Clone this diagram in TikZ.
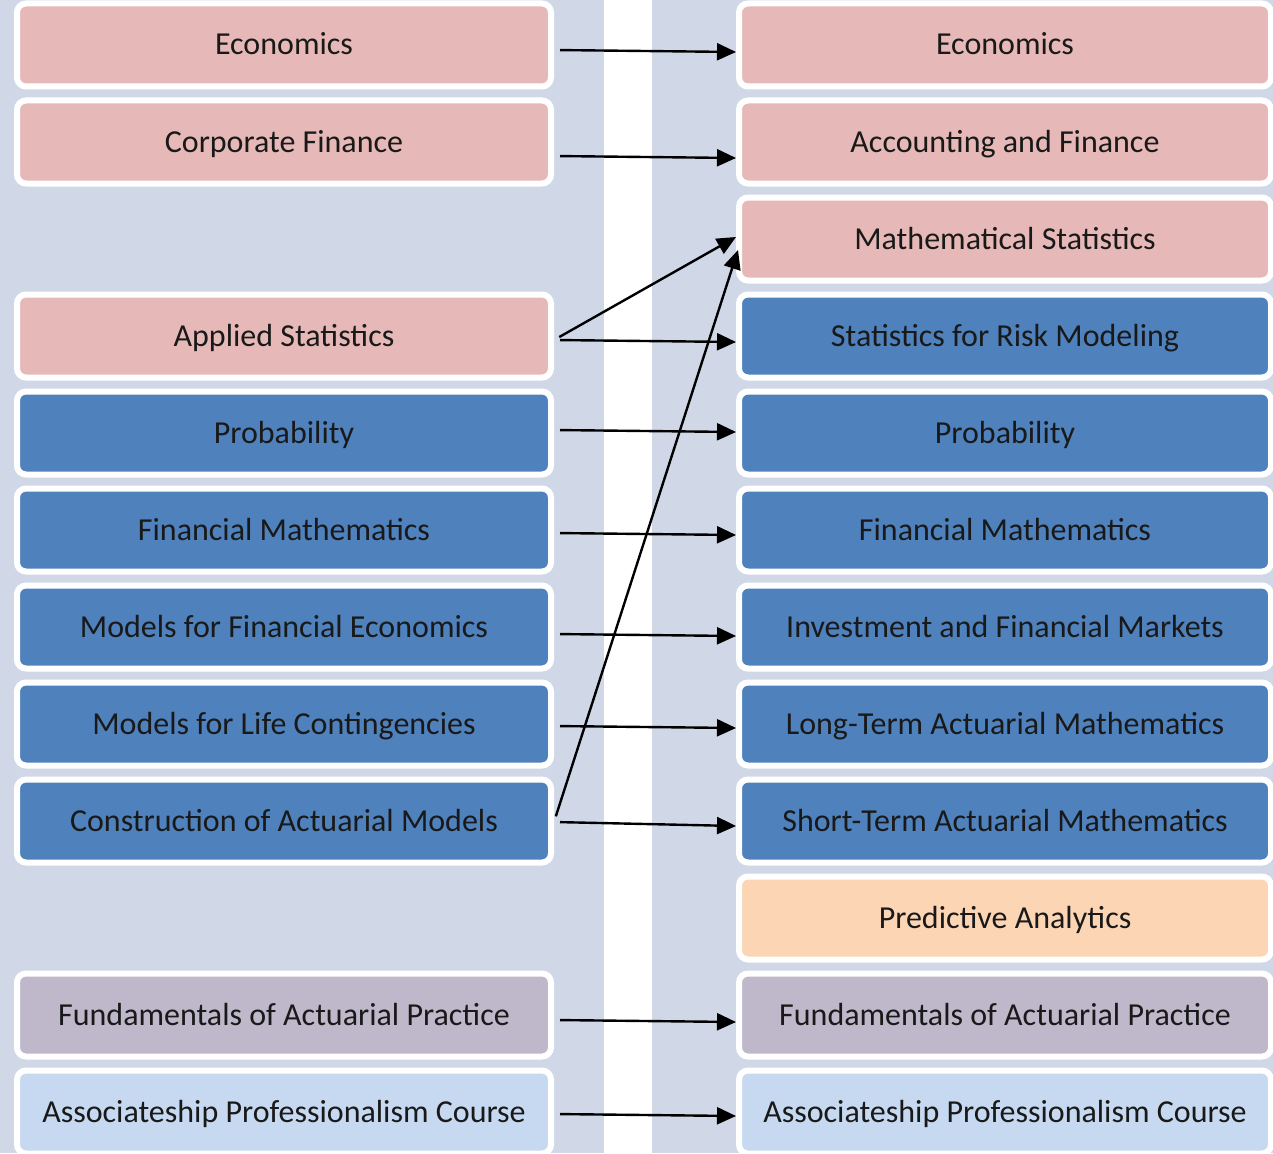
\documentclass[tikz,border=0pt]{standalone}
\usepackage{fontspec}
\setmainfont{Carlito}
\usetikzlibrary{positioning, arrows.meta}
\definecolor{bandbg}{HTML}{D0D8E8}
\definecolor{pinkbox}{HTML}{E6B9B8}
\definecolor{bluebox}{HTML}{4F81BD}
\definecolor{peachbox}{HTML}{FCD5B5}
\definecolor{lilacbox}{HTML}{BFB7CA}
\definecolor{palebox}{HTML}{C6D9F1}
\begin{document}
\begin{tikzpicture}[x=1pt,y=-1pt,node distance=97pt,on grid,
  course/.style={draw=white, line width=6pt, rounded corners=9pt, minimum width=534pt,
    minimum height=83pt, inner sep=0pt, text height=22pt, text depth=2pt,
    font=\fontsize{32}{38}\selectfont, text=black!90},
  newcourse/.style={course, minimum width=532pt},
  link/.style={-{Triangle[length=19pt,width=17pt]}, line width=2.4pt, shorten <=6pt}]
  \useasboundingbox (0,0) rectangle (1273,1153);
  \fill[bandbg] (0,0) rectangle (604,1153);
  \fill[bandbg] (652,0) rectangle (1273,1153);

  \node[newcourse, fill=pinkbox] (econR) at (1005,45) {Economics};
  \node[newcourse, fill=pinkbox] (accR) [below=of econR] {Accounting and Finance};
  \node[newcourse, fill=pinkbox] (mathR) [below=of accR] {Mathematical Statistics};
  \node[newcourse, fill=bluebox] (statR) [below=of mathR] {Statistics for Risk Modeling};
  \node[newcourse, fill=bluebox] (probR) [below=of statR] {Probability};
  \node[newcourse, fill=bluebox] (fmR) [below=of probR] {Financial Mathematics};
  \node[newcourse, fill=bluebox] (ifmR) [below=of fmR] {Investment and Financial Markets};
  \node[newcourse, fill=bluebox] (ltamR) [below=of ifmR] {Long-Term Actuarial Mathematics};
  \node[newcourse, fill=bluebox] (stamR) [below=of ltamR] {Short-Term Actuarial Mathematics};
  \node[newcourse, fill=peachbox] (paR) [below=of stamR] {Predictive Analytics};
  \node[newcourse, fill=lilacbox] (fapR) [below=of paR] {Fundamentals of Actuarial Practice};
  \node[newcourse, fill=palebox] (apcR) [below=of fapR] {Associateship Professionalism Course};

  \node[course, fill=pinkbox] (econL) [left=721pt of econR] {Economics};
  \node[course, fill=pinkbox] (corpL) [left=721pt of accR] {Corporate Finance};
  \node[course, fill=pinkbox] (appL) [left=721pt of statR] {Applied Statistics};
  \node[course, fill=bluebox] (probL) [left=721pt of probR] {Probability};
  \node[course, fill=bluebox] (fmL) [left=721pt of fmR] {Financial Mathematics};
  \node[course, fill=bluebox] (mfeL) [left=721pt of ifmR] {Models for Financial Economics};
  \node[course, fill=bluebox] (mlcL) [left=721pt of ltamR] {Models for Life Contingencies};
  \node[course, fill=bluebox] (camL) [left=721pt of stamR] {Construction of Actuarial Models};
  \node[course, fill=lilacbox] (fapL) [left=721pt of fapR] {Fundamentals of Actuarial Practice};
  \node[course, fill=palebox] (apcL) [left=721pt of apcR] {Associateship Professionalism Course};

  \draw[link] ([yshift=-5pt]econL.east) -- ([yshift=-7pt]econR.west);
  \draw[link] ([yshift=-14pt]corpL.east) -- ([yshift=-16pt]accR.west);
  \draw[link] ([yshift=-4pt]appL.east) -- ([yshift=-6pt]statR.west);
  \draw[link] ([yshift=-4pt]appL.east) -- ([yshift=2pt]mathR.west);
  \draw[link] ([yshift=3pt]probL.east) -- ([yshift=1pt]probR.west);
  \draw[link] ([yshift=-3pt]fmL.east) -- ([yshift=-5pt]fmR.west);
  \draw[link] ([yshift=-7pt]mfeL.east) -- ([yshift=-9pt]ifmR.west);
  \draw[link] ([yshift=-2pt]mlcL.east) -- ([yshift=-4pt]ltamR.west);
  \draw[link] ([yshift=-1pt]camL.east) -- ([yshift=-5pt]stamR.west);
  \draw[link] ([yshift=-1pt]camL.east) -- ([xshift=2pt,yshift=-11pt]mathR.west);
  \draw[link] ([yshift=-5pt]fapL.east) -- ([yshift=-7pt]fapR.west);
  \draw[link] ([yshift=-2pt]apcL.east) -- ([yshift=-4pt]apcR.west);
\end{tikzpicture}
\end{document}
